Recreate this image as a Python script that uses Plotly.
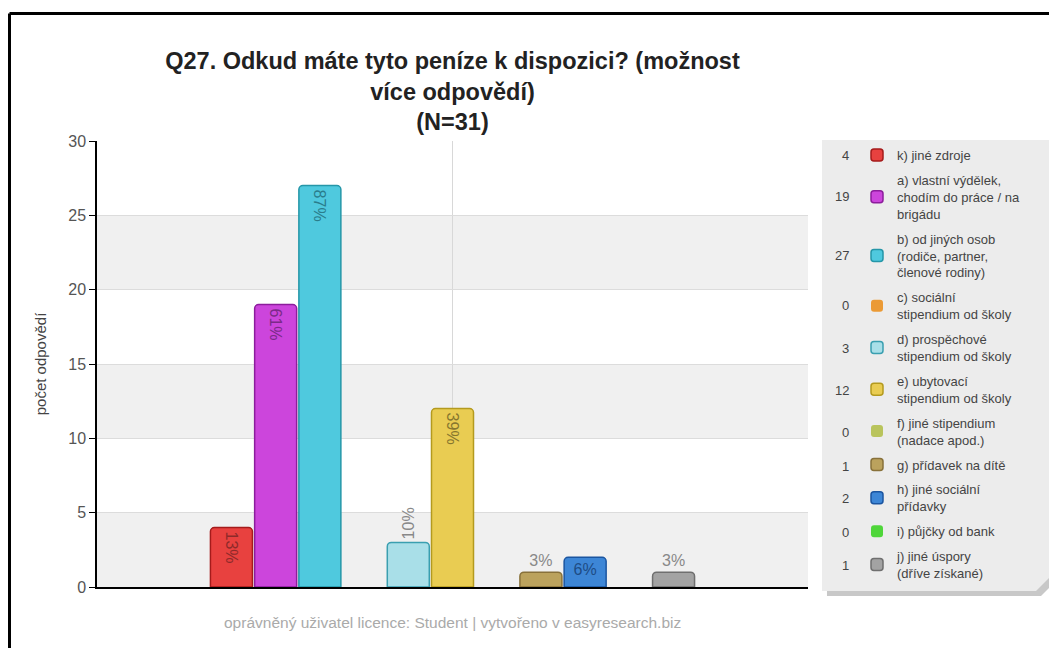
import plotly.graph_objects as go

# --- data ---
answers = [
    "k) jiné zdroje",
    "a) vlastní výdělek,<br>chodím do práce / na<br>brigádu",
    "b) od jiných osob<br>(rodiče, partner,<br>členové rodiny)",
    "c) sociální<br>stipendium od školy",
    "d) prospěchové<br>stipendium od školy",
    "e) ubytovací<br>stipendium od školy",
    "f) jiné stipendium<br>(nadace apod.)",
    "g) přídavek na dítě",
    "h) jiné sociální<br>přídavky",
    "i) půjčky od bank",
    "j) jiné úspory<br>(dříve získané)",
]
counts = [4, 19, 27, 0, 3, 12, 0, 1, 2, 0, 1]
pct_labels = ["13%", "61%", "87%", "", "10%", "39%", "", "3%", "6%", "", "3%"]

colors = ["#e8413f", "#cc45dc", "#4fc9de", "#eb9a35", "#a9dfe8", "#e9cc52",
          "#b9c45c", "#bba25d", "#3d86d6", "#4fd63a", "#a3a3a3"]
edges = ["#a51b1b", "#8c1d9c", "#2596a8", "#b86a10", "#3a9fb0", "#b49a1e",
         "#848d2c", "#88713a", "#1b55a0", "#2a9a1a", "#6f6f6f"]
text_colors = ["#8e2a2a", "#7a2a88", "#2a7d8c", "#888888", "#888888", "#86762e",
               "#888888", "#888888", "#1d4c85", "#888888", "#888888"]
text_pos = ["inside", "inside", "inside", "none", "outside", "inside",
            "none", "outside", "inside", "none", "outside"]
text_ang = [90, 90, 90, 0, -90, 90, 0, 0, 0, 0, 0]

FONT = "Liberation Sans, Arial, sans-serif"

# the page adds an 8px body margin, so figure pixels = screen pixels - 8
OFF = 8
W, H = 1049, 640
PL, PR, PT, PB = 97 - OFF, 808 - OFF, 141 - OFF, 587 - OFF


def px2x(px):
    # screen x pixel -> paper x
    return (px - OFF - PL) / (PR - PL)


def py2y(py):
    # screen y pixel -> paper y
    return (PB - (py - OFF)) / (PB - PT)


fig = go.Figure()
for i, name in enumerate(answers):
    fig.add_trace(go.Bar(
        x=[""], y=[counts[i]], name=name,
        marker=dict(color=colors[i],
                    line=dict(color=edges[i], width=1.5 if counts[i] else 0),
                    cornerradius=4),
        text=[pct_labels[i]], textposition=text_pos[i], textangle=text_ang[i],
        insidetextanchor="end",
        textfont=dict(family=FONT, size=16, color=text_colors[i]),
        legendgroup=str(i),
        cliponaxis=False,
    ))

shapes = []
# alternating bands
for lo in (0, 10, 20):
    shapes.append(dict(type="rect", xref="paper", yref="y", x0=0, x1=1, y0=lo, y1=lo + 5,
                       fillcolor="#f0f0f0", line_width=0, layer="below"))
# legend box with shadow and cut corner
lx0, lx1, ly0, ly1, cut = 822, 1050, 140, 591, 14


def box_path(dx, dy):
    pts = [(lx0 + dx, ly0 + dy), (lx1 + dx, ly0 + dy), (lx1 + dx, ly1 - cut + dy),
           (lx1 - cut + dx, ly1 + dy), (lx0 + dx, ly1 + dy)]
    return "M " + " L ".join(f"{px2x(a):.5f},{py2y(b):.5f}" for a, b in pts) + " Z"


shapes.append(dict(type="path", xref="paper", yref="paper", path=box_path(5, 5),
                   fillcolor="#9a9a9a", opacity=0.55, line_width=0, layer="below"))
shapes.append(dict(type="path", xref="paper", yref="paper", path=box_path(0, 0),
                   fillcolor="#ececec", line_width=0, layer="below"))
# frame around the whole picture
shapes.append(dict(type="line", xref="paper", yref="paper", x0=px2x(9.5), x1=px2x(1070),
                   y0=py2y(13.5), y1=py2y(13.5), line=dict(color="black", width=3)))
shapes.append(dict(type="line", xref="paper", yref="paper", x0=px2x(9.5), x1=px2x(9.5),
                   y0=py2y(13.5), y1=py2y(670), line=dict(color="black", width=3)))

# counts to the left of the legend swatches
legend_rows = [155, 196, 255, 305, 348, 390, 432, 466, 498, 532, 565]
annotations = []
for c, row in zip(counts, legend_rows):
    annotations.append(dict(xref="paper", yref="paper", x=px2x(851), y=py2y(row),
                            xanchor="right", yanchor="middle", showarrow=False,
                            text=str(c), font=dict(family=FONT, size=13, color="#444444")))
annotations.append(dict(xref="paper", yref="paper", x=0.5, y=py2y(622),
                        xanchor="center", yanchor="middle", showarrow=False,
                        text="oprávněný uživatel licence: Student | vytvořeno v easyresearch.biz",
                        font=dict(family=FONT, size=15.5, color="#aaaaaa")))

fig.update_layout(
    width=W, height=H,
    margin=dict(l=PL, r=W - PR, t=PT, b=H - PB),
    paper_bgcolor="white", plot_bgcolor="white",
    font=dict(family=FONT, color="#444444"),
    title=dict(text="<b>Q27. Odkud máte tyto peníze k dispozici? (možnost<br>více odpovědí)<br>(N=31)</b>",
               x=0.5, xref="paper", xanchor="center", y=1 - 61 / H, yanchor="top",
               font=dict(family=FONT, size=23.5, color="#222222")),
    barmode="group", bargap=0.316, bargroupgap=0.05,
    showlegend=True,
    legend=dict(x=px2x(857), y=py2y(140), xanchor="left", yanchor="top",
                bgcolor="rgba(0,0,0,0)", tracegroupgap=5, maxheight=620,
                font=dict(family=FONT, size=13, color="#444444")),
    shapes=shapes, annotations=annotations,
    xaxis=dict(showline=True, linecolor="black", linewidth=1.5, showgrid=True,
               gridcolor="#d8d8d8", showticklabels=False, ticks="", fixedrange=True),
    yaxis=dict(range=[0, 30], dtick=5, showline=True, linecolor="black", linewidth=1.5,
               ticks="outside", ticklen=6, tickcolor="black", showgrid=True,
               gridcolor="#dcdcdc", zeroline=False,
               tickfont=dict(family=FONT, size=16, color="#555555"),
               title=dict(text="počet odpovědí", standoff=18,
                          font=dict(family=FONT, size=15, color="#444444"))),
)

fig.write_html("out.html")
